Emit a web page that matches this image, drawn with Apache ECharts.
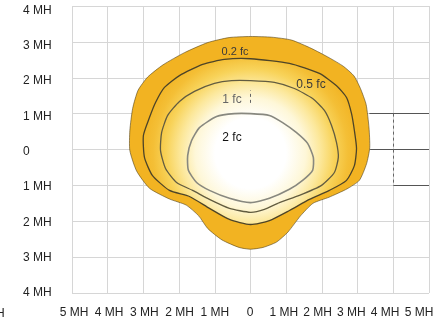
<!DOCTYPE html>
<html><head><meta charset="utf-8">
<script src="https://cdn.jsdelivr.net/npm/echarts@6/dist/echarts.min.js"></script>
<style>html,body{margin:0;padding:0;background:#fff}#c{width:438px;height:327px}</style>
</head><body><div id="c"></div>
<script>
// Axis ranges / tick labels (mounting heights)
const xTickValues = [-5,-4,-3,-2,-1,0,1,2,3,4,5];
const xTickLabels = ['5 MH','4 MH','3 MH','2 MH','1 MH','0','1 MH','2 MH','3 MH','4 MH','5 MH'];
const yTickValues = [-4,-3,-2,-1,0,1,2,3,4];
const yTickLabels = ['4 MH','3 MH','2 MH','1 MH','0','1 MH','2 MH','3 MH','4 MH'];

// Isofootcandle contours [x MH, y MH]
const contour02 = [[0,3.15],[0.6,3.13],[1.15,3.05],[1.7,2.82],[2.2,2.56],[2.6,2.32],[2.9,2.05],[3.08,1.7],[3.24,1.25],[3.32,0.6],[3.34,0.05],[3.25,-0.4],[3.05,-0.86],[2.7,-1.1],[2.2,-1.33],[1.75,-1.5],[1.4,-1.85],[1.05,-2.3],[0.73,-2.58],[0.35,-2.73],[0,-2.78],[-0.32,-2.73],[-0.8,-2.52],[-1.2,-2.2],[-1.45,-1.85],[-1.8,-1.55],[-2.27,-1.38],[-2.83,-1.08],[-3.19,-0.6],[-3.38,-0.03],[-3.38,0.53],[-3.3,1.15],[-3.15,1.65],[-2.88,2.02],[-2.45,2.36],[-1.85,2.7],[-1.2,2.98],[-0.6,3.12]];
const contour05 = [[0,2.53],[1.09,2.4],[1.93,2.12],[2.41,1.78],[2.69,1.45],[2.83,1.0],[2.91,0.53],[2.97,0.03],[2.91,-0.45],[2.69,-0.86],[2.21,-1.14],[1.65,-1.39],[1.09,-1.7],[0.53,-1.98],[0,-2.09],[-0.59,-1.95],[-1.15,-1.64],[-1.71,-1.31],[-2.27,-1.14],[-2.75,-0.72],[-2.97,-0.22],[-3.0,0.39],[-2.83,0.89],[-2.66,1.31],[-2.41,1.73],[-1.99,2.06],[-1.34,2.37],[-0.73,2.51]];
const contour1 = [[0,1.92],[0.67,1.87],[1.23,1.7],[1.74,1.42],[2.07,1.09],[2.27,0.67],[2.41,0.19],[2.46,-0.22],[2.35,-0.64],[1.99,-1.0],[1.37,-1.28],[0.81,-1.48],[0.39,-1.67],[0,-1.75],[-0.59,-1.64],[-1.15,-1.39],[-1.62,-1.14],[-2.07,-0.92],[-2.38,-0.53],[-2.52,-0.03],[-2.49,0.47],[-2.32,0.95],[-1.99,1.34],[-1.57,1.62],[-1.01,1.84],[-0.53,1.92]];
const contour2 = [[0,1.0],[0.53,0.95],[0.9,0.75],[1.29,0.47],[1.6,0.17],[1.76,-0.22],[1.74,-0.58],[1.46,-0.86],[1.09,-1.11],[0.53,-1.36],[0,-1.48],[-0.59,-1.36],[-1.15,-1.14],[-1.51,-0.92],[-1.74,-0.58],[-1.76,-0.17],[-1.65,0.25],[-1.43,0.61],[-0.95,0.92],[-0.45,1.0]];
const contourNames = ['0.2 fc','0.5 fc','1 fc','2 fc'];

// darker reference segments seen on the right side of the grid
const refSegments = [[[3.33,1],[5,1]],[[3.35,0],[5,0]],[[4,-1],[5,-1]]];
const refDashed = [[[4,1],[4,-1]],[[0,1.3],[0,1.65]]];

const FONT = '"Liberation Sans", Arial, sans-serif';
const chart = echarts.init(document.getElementById('c'), null, {renderer:'canvas'});

function polySeries(name, pts, fill, stroke, width, z) {
  return {
    type:'custom', name, xAxisIndex:0, yAxisIndex:0, z, silent:true, clip:false,
    data:[[0,0]],
    renderItem:(params, api) => {
      const points = pts.map(p => api.coord(p));
      let f = fill;
      if (fill === 'radial') {
        const c = api.coord([0, -0.1]);
        const r = api.size([3.1, 0])[0];
        f = {type:'radial', x:c[0], y:c[1], r:r, global:true, colorStops:[
          {offset:0, color:'#ffffff'},
          {offset:0.32, color:'#ffffff'},
          {offset:0.5, color:'#fef7d8'},
          {offset:0.63, color:'#fce89c'},
          {offset:0.76, color:'#f8d35a'},
          {offset:0.88, color:'#f4bf36'},
          {offset:1, color:'#f2b424'}]};
      }
      return {type:'polygon', shape:{points, smooth:0.2}, style:{fill:f, stroke:stroke, lineWidth:width}};
    }
  };
}

const gridLine = {show:true, lineStyle:{color:'#d6d6d6', width:1}};
const lineData = refSegments.map(s => [{coord:s[0]},{coord:s[1]}]);
const dashData = refDashed.map(s => [{coord:s[0]},{coord:s[1]}]);

chart.setOption({
  animation:false,
  backgroundColor:'#ffffff',
  grid:[
    {left:72, top:6, width:357, height:287},
    {left:74, top:6, width:176, height:287},
    {left:250, top:6, width:169, height:287},
    {left:72, top:10.5, width:357, height:282.5}
  ],
  xAxis:[
    {gridIndex:0, type:'value', min:-5, max:5, interval:1, axisLine:{show:false}, axisTick:{show:false}, axisLabel:{show:false}, splitLine:gridLine},
    {gridIndex:1, type:'value', min:-5, max:0, interval:1, axisLine:{show:false}, axisTick:{show:false}, splitLine:{show:false},
      axisLabel:{margin:14, color:'#222', fontFamily:'Liberation Sans', fontSize:12, formatter:v => xTickLabels[xTickValues.indexOf(Math.round(v))]}},
    {gridIndex:2, type:'value', min:0, max:5, interval:1, axisLine:{show:false}, axisTick:{show:false}, splitLine:{show:false},
      axisLabel:{margin:14, showMinLabel:false, color:'#222', fontFamily:'Liberation Sans', fontSize:12, formatter:v => xTickLabels[xTickValues.indexOf(Math.round(v))]}},
    {gridIndex:3, type:'value', min:-5, max:5, show:false}
  ],
  yAxis:[
    {gridIndex:0, type:'value', min:-4, max:4, interval:1, axisLine:{show:false}, axisTick:{show:true, length:7, lineStyle:{color:'#d6d6d6'}}, axisLabel:{show:false}, splitLine:gridLine},
    {gridIndex:1, type:'value', min:-4, max:4, show:false},
    {gridIndex:2, type:'value', min:-4, max:4, show:false},
    {gridIndex:3, type:'value', min:-4, max:4, interval:1, axisLine:{show:false}, axisTick:{show:false}, splitLine:{show:false},
      axisLabel:{margin:49, align:'left', color:'#222', fontFamily:'Liberation Sans', fontSize:12,
        formatter:v => yTickLabels[yTickValues.indexOf(Math.round(v))]}}
  ],
  series:[
    polySeries(contourNames[0], contour02, '#f2b322', 'rgba(70,55,20,0.55)', 1, 2),
    polySeries(contourNames[1]+' fill', contour05, 'radial', null, 0, 3),
    polySeries(contourNames[1], contour05, null, '#4d4428', 1.3, 4),
    polySeries(contourNames[2], contour1, null, '#625c40', 1.3, 4),
    polySeries(contourNames[3], contour2, null, '#88887f', 1.6, 4),
    {type:'line', xAxisIndex:0, yAxisIndex:0, data:[], z:5, silent:true,
      markLine:{silent:true, symbol:['none','none'], label:{show:false}, lineStyle:{color:'#555', width:1, type:'solid'}, data:lineData}},
    {type:'line', xAxisIndex:0, yAxisIndex:0, data:[], z:5, silent:true,
      markLine:{silent:true, symbol:['none','none'], label:{show:false}, lineStyle:{color:'#666', width:1, type:[3,3]}, data:dashData}}
  ],
  graphic:[
    {type:'text', x:235, y:52, z:10, style:{text:'0.2 fc', font:'11px '+FONT, fill:'#3a3a3a', align:'center', verticalAlign:'middle'}},
    {type:'text', x:311, y:85, z:10, style:{text:'0.5 fc', font:'12px '+FONT, fill:'#3a3a3a', align:'center', verticalAlign:'middle'}},
    {type:'text', x:232, y:100, z:10, style:{text:'1 fc', font:'12px '+FONT, fill:'#666', align:'center', verticalAlign:'middle'}},
    {type:'text', x:232, y:138, z:10, style:{text:'2 fc', font:'12px '+FONT, fill:'#111', align:'center', verticalAlign:'middle'}},
    {type:'text', x:-4, y:314, z:10, style:{text:'H', font:'12px '+FONT, fill:'#222', align:'left', verticalAlign:'middle'}}
  ]
});
</script></body></html>
